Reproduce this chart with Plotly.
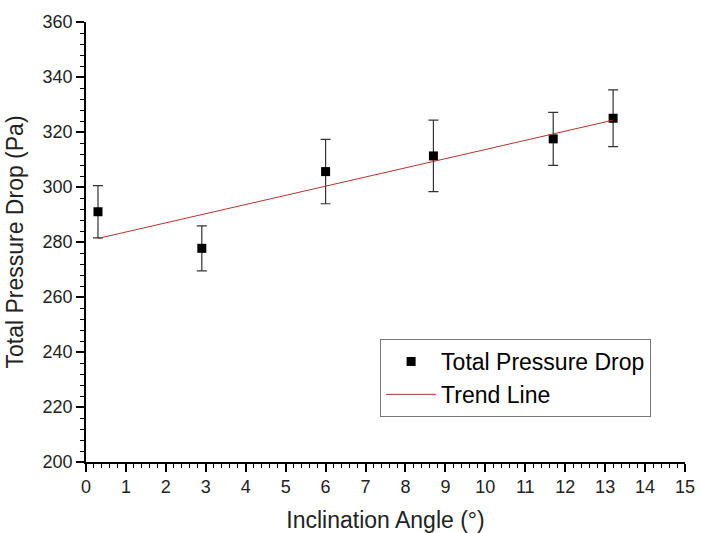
import plotly.graph_objects as go

# Measured total pressure drop vs. inclination angle
angle_deg = [0.3, 2.9, 6.0, 8.7, 11.7, 13.2]
pressure_drop_pa = [291.0, 277.7, 305.6, 311.3, 317.5, 325.0]
error_pa = [9.5, 8.2, 11.7, 13.0, 9.6, 10.3]

# Linear trend line end points
trend_angle = [0.3, 13.2]
trend_pressure = [281.3, 324.3]

FONT = "Arial, Liberation Sans, sans-serif"

fig = go.Figure()

fig.add_trace(go.Scatter(
    x=angle_deg, y=pressure_drop_pa,
    mode="markers",
    name="Total Pressure Drop",
    marker=dict(symbol="square", size=9, color="black"),
    error_y=dict(type="data", array=error_pa, visible=True,
                 color="#333333", thickness=1.2, width=5),
))

fig.add_trace(go.Scatter(
    x=trend_angle, y=trend_pressure,
    mode="lines",
    name="Trend Line",
    line=dict(color="#b83030", width=1),
))

axis_common = dict(
    showline=True, linecolor="black", linewidth=1.5,
    ticks="outside", ticklen=8, tickwidth=1.5, tickcolor="black",
    showgrid=False, zeroline=False, mirror=False, automargin=False,
    tickfont=dict(family=FONT, size=18, color="#222222"),
)

fig.update_xaxes(
    range=[0, 15], tick0=0, dtick=1,
    minor=dict(dtick=0.2, ticks="outside", ticklen=4, tickwidth=1.2, tickcolor="black"),
    title=dict(text="Inclination Angle (°)", font=dict(family=FONT, size=23, color="#222222"), standoff=16),
    **axis_common,
)
fig.update_yaxes(
    range=[200, 360], tick0=200, dtick=20,
    minor=dict(dtick=4, ticks="outside", ticklen=4, tickwidth=1.2, tickcolor="black"),
    title=dict(text="Total Pressure Drop (Pa)", font=dict(family=FONT, size=23, color="#222222"), standoff=13),
    **axis_common,
)

fig.update_layout(
    width=701, height=533,
    margin=dict(l=86, r=16, t=22, b=71),
    paper_bgcolor="white", plot_bgcolor="white",
    showlegend=True,
    legend=dict(
        x=0.491, y=0.2795, xanchor="left", yanchor="top",
        bordercolor="#777777", borderwidth=1, bgcolor="white",
        font=dict(family=FONT, size=23, color="black"),
        itemwidth=50, tracegroupgap=0,
    ),
)

fig.write_html("out.html")
